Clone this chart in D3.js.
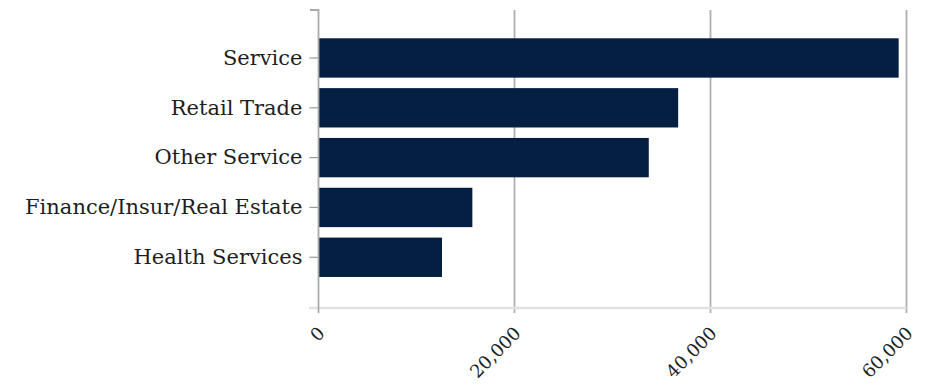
<!DOCTYPE html>
<html><head><meta charset="utf-8">
<script src="https://cdn.jsdelivr.net/npm/d3@7"></script>
<style>
html,body{margin:0;padding:0;background:#fff;}
svg{display:block;}
</style></head>
<body>
<svg id="chart" width="927" height="385"></svg>
<script>
const categories = ["Service", "Retail Trade", "Other Service", "Finance/Insur/Real Estate", "Health Services"];
const values = [59200, 36700, 33700, 15700, 12600];
const xTicks = [0, 20000, 40000, 60000];

(function () {
const svg = d3.select("#chart");
const x = d3.scaleLinear().domain([0, 60000]).range([318.5, 906.5]);
const y = d3.scaleBand().domain(categories).range([8.65, 306.6]).paddingInner(0.21).paddingOuter(0.595);
const plotTop = 10, axisY = 308, gridBottom = 313;
const font = "'DejaVu Serif', Georgia, serif";

// x gridlines
svg.append("g").selectAll("line").data(xTicks.slice(1)).join("line")
  .attr("x1", d => x(d)).attr("x2", d => x(d))
  .attr("y1", plotTop).attr("y2", gridBottom)
  .attr("stroke", "#b0b0b0").attr("stroke-width", 1.8);

// x axis domain line
svg.append("line").attr("x1", 309).attr("x2", x(60000)).attr("y1", axisY).attr("y2", axisY)
  .attr("stroke", "#e2e2e2").attr("stroke-width", 2.5);

// bars
svg.append("g").selectAll("rect").data(categories).join("rect")
  .attr("x", x(0)).attr("y", d => y(d))
  .attr("width", (d, i) => x(values[i]) - x(0))
  .attr("height", y.bandwidth())
  .attr("fill", "#051f42");

// y axis
const yAxis = svg.append("g").attr("transform", `translate(${x(0)},0)`)
  .call(d3.axisLeft(y).tickSize(9).tickPadding(7).tickSizeOuter(0));
yAxis.select(".domain").remove();
yAxis.selectAll(".tick line").attr("stroke", "#999").attr("stroke-width", 1.2);
yAxis.selectAll(".tick text").attr("fill", "#1e1e1e")
  .style("font-family", font).style("font-size", "21px");
svg.append("path")
  .attr("d", `M310,${plotTop}H${x(0)}V${gridBottom}`)
  .attr("fill", "none").attr("stroke", "#aaa").attr("stroke-width", 1.8);

// x tick labels (rotated)
svg.append("g").selectAll("text").data(xTicks).join("text")
  .attr("transform", d => `translate(${x(d) + 3},330) rotate(-45)`)
  .attr("text-anchor", "end").attr("dy", "0.35em")
  .style("font-family", font).style("font-size", "18px").attr("fill", "#1e1e1e")
  .text(d => d3.format(",")(d));
})();
</script>
</body></html>
